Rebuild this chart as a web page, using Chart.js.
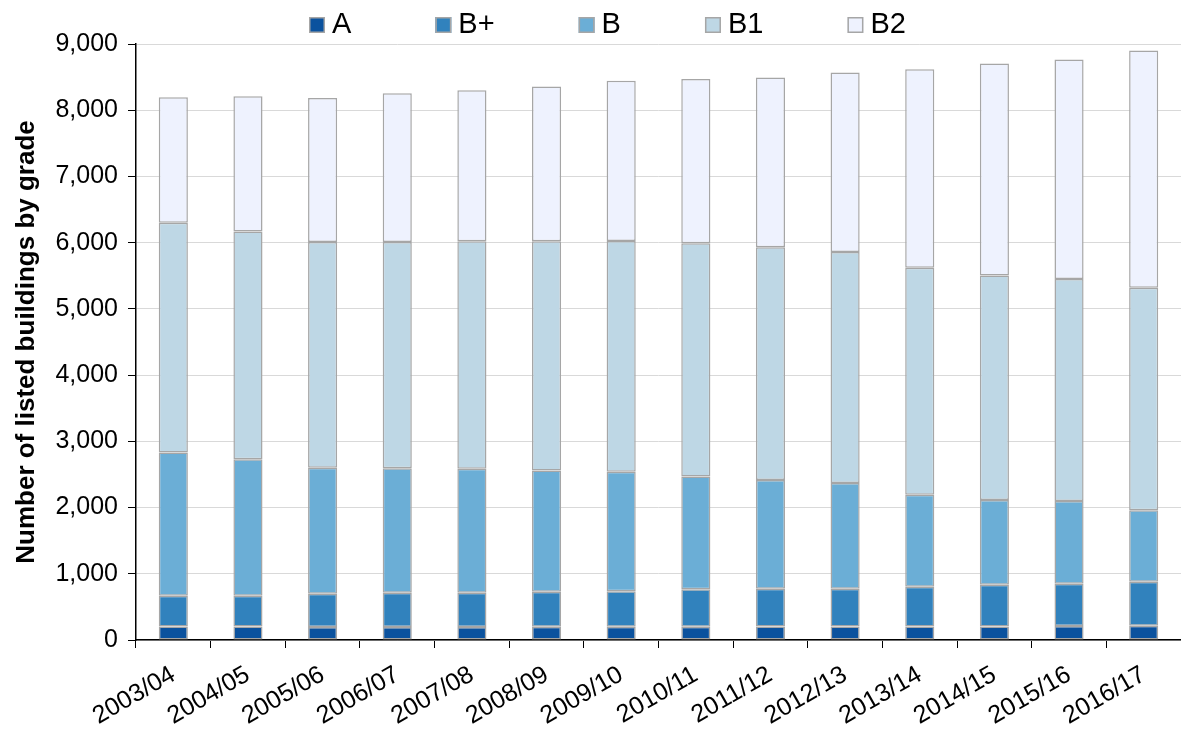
<!DOCTYPE html>
<html>
<head>
<meta charset="utf-8">
<script src="https://cdn.jsdelivr.net/npm/chart.js@4.4.0/dist/chart.umd.min.js"></script>
<style>
    body { margin: 0; background: #fff; }
    #graficoBox { width: 1181px; height: 729px; }
</style>
</head>
<body>
<div id="graficoBox"><canvas id="graficoGrades"></canvas></div>
<script>
// values
var anos = ['2003/04', '2004/05', '2005/06', '2006/07', '2007/08', '2008/09', '2009/10',
    '2010/11', '2011/12', '2012/13', '2013/14', '2014/15', '2015/16', '2016/17'];
var gradeA = [205, 205, 195, 195, 195, 200, 200, 200, 205, 205, 205, 205, 210, 215];
var gradeBmais = [465, 465, 505, 520, 520, 530, 535, 565, 570, 570, 600, 630, 640, 665];
var gradeB = [2160, 2060, 1900, 1880, 1870, 1830, 1805, 1705, 1640, 1595, 1390, 1280, 1250, 1080];
var gradeB1 = [3470, 3440, 3410, 3415, 3435, 3460, 3485, 3520, 3515, 3490, 3425, 3390, 3350, 3360];
var gradeB2 = [1895, 2040, 2175, 2245, 2280, 2340, 2420, 2480, 2565, 2710, 3000, 3200, 3315, 3580];

var fonte = '"Liberation Sans", Arial, sans-serif';
var borda = '#a6a6a6';

function MontarSerie(nome, valores, cor) {
    return {
        label: nome,
        data: valores,
        backgroundColor: cor,
        borderColor: borda,
        borderWidth: 1.5,
        borderSkipped: false,
        barPercentage: 0.39,
        categoryPercentage: 1
    };
}

// legend drawn by hand so the item spacing matches the original
var legendaTopo = {
    id: 'legendaTopo',
    afterDraw: function (chart) {
        var ctx = chart.ctx;
        var x = 309;
        ctx.save();
        ctx.font = '29px ' + fonte;
        ctx.textBaseline = 'middle';
        chart.data.datasets.forEach(function (ds) {
            ctx.fillStyle = ds.backgroundColor;
            ctx.fillRect(x, 17, 16, 16);
            ctx.strokeStyle = borda;
            ctx.lineWidth = 1.5;
            ctx.strokeRect(x + 0.75, 17.75, 14.5, 14.5);
            ctx.fillStyle = '#000';
            ctx.fillText(ds.label, x + 23, 25);
            x += 23 + ctx.measureText(ds.label).width + 84;
        });
        ctx.restore();
    }
};

new Chart(document.getElementById('graficoGrades'), {
    type: 'bar',
    data: {
        labels: anos,
        datasets: [
            MontarSerie('A', gradeA, '#0b529e'),
            MontarSerie('B+', gradeBmais, '#3182bd'),
            MontarSerie('B', gradeB, '#6baed6'),
            MontarSerie('B1', gradeB1, '#bed7e5'),
            MontarSerie('B2', gradeB2, '#eef2fe')
        ]
    },
    options: {
        responsive: true,
        maintainAspectRatio: false,
        animation: false,
        layout: { padding: { top: 44, right: 0, left: 4, bottom: 0 } },
        plugins: {
            legend: { display: false },
            tooltip: { enabled: false }
        },
        scales: {
            x: {
                stacked: true,
                offset: true,
                grid: {
                    offset: true,
                    drawOnChartArea: false,
                    tickLength: 8,
                    tickColor: '#000'
                },
                border: { color: '#000', width: 1.5 },
                ticks: {
                    color: '#000',
                    font: { family: fonte, size: 25 },
                    minRotation: 30,
                    maxRotation: 30,
                    autoSkip: false,
                    padding: 12
                },
                afterFit: function (scale) { scale.height = 89; }
            },
            y: {
                stacked: true,
                min: 0,
                max: 9000,
                grid: {
                    color: '#d9d9d9',
                    tickColor: '#000',
                    tickLength: 8
                },
                border: { color: '#000', width: 1.5 },
                ticks: {
                    stepSize: 1000,
                    color: '#000',
                    padding: 10,
                    font: { family: fonte, size: 25 },
                    callback: function (v) { return v.toLocaleString('en-US'); }
                },
                title: {
                    display: true,
                    text: 'Number of listed buildings by grade',
                    color: '#000',
                    font: { family: fonte, size: 26, weight: 'bold' },
                    padding: { top: 7, bottom: 4 }
                },
                afterFit: function (scale) { scale.width = 132; }
            }
        }
    },
    plugins: [legendaTopo]
});
</script>
</body>
</html>
